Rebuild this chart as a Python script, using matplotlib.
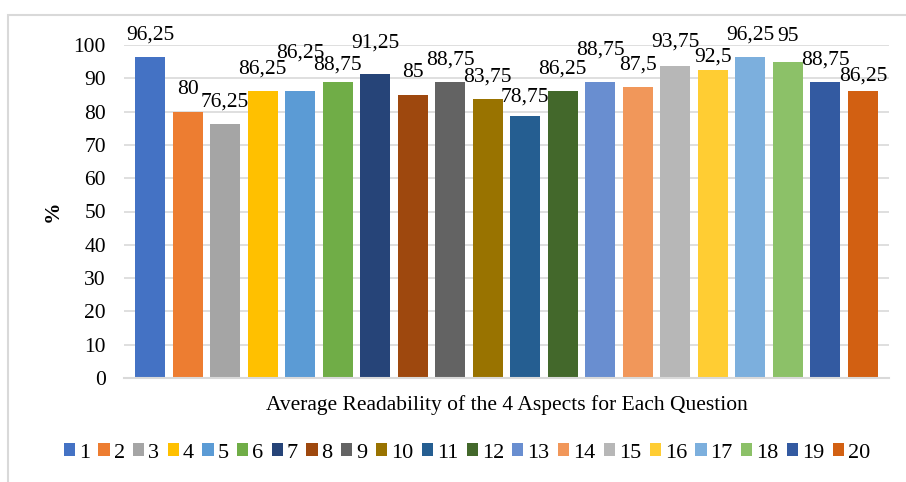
import matplotlib
matplotlib.use('Agg')
import matplotlib.pyplot as plt
from matplotlib.patches import Rectangle

plt.rcParams['font.family'] = ['Liberation Serif', 'DejaVu Serif']

# data
questions = [str(i) for i in range(1, 21)]
scores = [96.25, 80, 76.25, 86.25, 86.25, 88.75, 91.25, 85, 88.75, 83.75,
          78.75, 86.25, 88.75, 87.5, 93.75, 92.5, 96.25, 95, 88.75, 86.25]
colors = ['#4472C4', '#ED7D31', '#A5A5A5', '#FFC000', '#5B9BD5', '#70AD47',
          '#264478', '#9E480E', '#636363', '#997300', '#255E91', '#43682B',
          '#698ED0', '#F1975A', '#B7B7B7', '#FFCD33', '#7CAFDD', '#8CC168',
          '#335AA1', '#D26012']
# excel nudged some labels to avoid overlaps (pixels)
label_nudge = [0, 0, 0, 0, 16, -5, 9, 0, 0, 0,
               -3, 0, 10, 0, 2, -9, 0, 3, 0, -7]


def fmt(v):
    s = '{:.2f}'.format(v).rstrip('0').rstrip('.')
    return s.replace('.', ',')


fig = plt.figure(figsize=(9.06, 4.82), dpi=100)
ax = fig.add_axes([124 / 906, 1 - 378 / 482, (889 - 124) / 906, (378 - 45) / 482])

# chart frame (partly cropped in the original)
fig.patches.append(Rectangle((8 / 906, -0.2), 1.2, 1 - 15 / 482 + 0.2,
                             transform=fig.transFigure, fill=False,
                             edgecolor='#d9d9d9', linewidth=1.5))

for i, (q, v) in enumerate(zip(questions, scores)):
    ax.bar(i, v, width=0.8, color=colors[i], label=q, zorder=3)
    ax.annotate(fmt(v), (i, v), xytext=(0, 22 + label_nudge[i]),
                textcoords='offset pixels', ha='center', va='center',
                fontsize=15.5, zorder=4)

ax.set_xlim(-0.693, 19.693)
ax.set_ylim(0, 100)
ax.set_yticks(range(0, 101, 10))
ax.set_xticks([])
ax.tick_params(axis='y', length=0, pad=13, labelsize=15.5)
ax.grid(axis='y', color='#d9d9d9', linewidth=1.2, zorder=0)
for s in ['top', 'right', 'left']:
    ax.spines[s].set_visible(False)
ax.spines['bottom'].set_color('#d9d9d9')
ax.spines['bottom'].set_linewidth(1.5)
ax.spines['bottom'].set_zorder(3.5)

ax.set_ylabel('%', fontsize=15.5, fontweight='bold', labelpad=8)
ax.set_xlabel('Average Readability of the 4 Aspects for Each Question',
              fontsize=15.5, labelpad=12)

fig.legend(loc='center', bbox_to_anchor=(467 / 906, 1 - 453 / 482), ncol=20,
           frameon=False, fontsize=16, handlelength=0.5, handleheight=0.5,
           handletextpad=0.18, columnspacing=0.38, borderpad=0)

fig.savefig('out.png', dpi=100)
